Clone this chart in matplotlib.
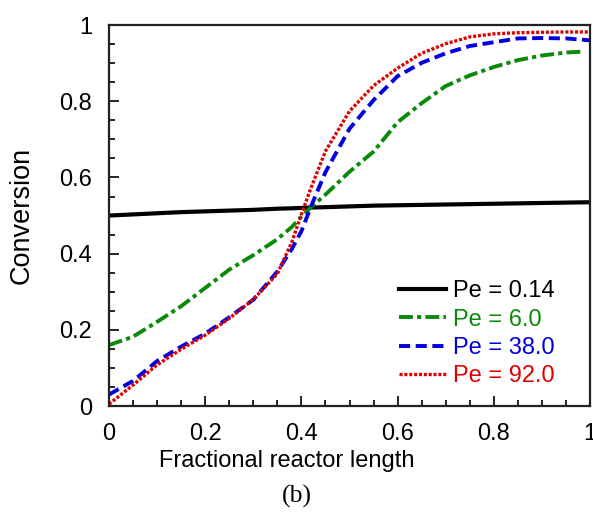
import numpy as np
import matplotlib.pyplot as plt

# fractional reactor length
x = [0.0, 0.05, 0.1, 0.15, 0.2, 0.25, 0.3, 0.35, 0.38, 0.4, 0.42, 0.45,
     0.5, 0.55, 0.6, 0.65, 0.7, 0.75, 0.8, 0.85, 0.9, 0.95, 1.0]

# conversion for each Peclet number
pe_014 = [0.500, 0.503, 0.506, 0.509, 0.511, 0.513, 0.515, 0.518, 0.519, 0.520, 0.521, 0.522,
          0.524, 0.526, 0.527, 0.528, 0.529, 0.530, 0.531, 0.532, 0.533, 0.534, 0.535]
pe_6 = [0.160, 0.182, 0.221, 0.262, 0.310, 0.358, 0.396, 0.438, 0.470, 0.497, 0.522, 0.555,
        0.615, 0.668, 0.745, 0.795, 0.840, 0.868, 0.890, 0.908, 0.920, 0.928, 0.930]
pe_38 = [0.030, 0.066, 0.118, 0.156, 0.190, 0.233, 0.279, 0.353, 0.412, 0.459, 0.524, 0.614,
         0.728, 0.803, 0.866, 0.901, 0.926, 0.945, 0.955, 0.965, 0.966, 0.965, 0.960]
pe_92 = [0.005, 0.055, 0.108, 0.149, 0.186, 0.230, 0.280, 0.347, 0.430, 0.503, 0.573, 0.669,
         0.774, 0.841, 0.887, 0.926, 0.951, 0.969, 0.977, 0.980, 0.981, 0.982, 0.982]
labels = ["Pe = 0.14", "Pe = 6.0", "Pe = 38.0", "Pe = 92.0"]

plt.rcParams['font.family'] = ['Liberation Sans', 'DejaVu Sans']
plt.rcParams['lines.scale_dashes'] = False

fig = plt.figure(figsize=(5.93, 5.12), dpi=100)
ax = fig.add_axes([0.1838, 0.207, 0.8112, 0.744])

ax.plot(x, pe_014, color="black", lw=3.0, label=labels[0])
ax.plot(x[:-1] + [0.98], pe_6[:-1] + [0.930], color="#0a8a0a", lw=2.8,
        dashes=(10, 3, 3, 3), label=labels[1])
ax.plot(x, pe_38, color="#0000e0", lw=2.8, dashes=(8, 4), label=labels[2])
ax.plot(x, pe_92, color="#e00000", lw=2.4, dashes=(2.2, 1.3), label=labels[3])

ax.set_xlim(0, 1)
ax.set_ylim(0, 1)
ax.set_xticks(np.arange(0, 1.01, 0.2))
ax.set_yticks(np.arange(0, 1.01, 0.2))
ax.set_xticklabels(["0", "0.2", "0.4", "0.6", "0.8", "1"])
ax.set_yticklabels(["0", "0.2", "0.4", "0.6", "0.8", "1"])
ax.set_xticks(np.arange(0, 1.01, 0.05), minor=True)
ax.set_yticks(np.arange(0, 1.01, 0.05), minor=True)
ax.tick_params(which="both", direction="in", top=False, right=False, width=1.2, labelsize=17)
ax.tick_params(which="major", length=7)
ax.tick_params(which="minor", length=4)
ax.tick_params(axis="y", pad=12)
ax.tick_params(axis="x", pad=12)
for s in ax.spines.values():
    s.set_linewidth(1.6)
    s.set_color("#222222")

ax.set_xlabel("Fractional reactor length", fontsize=17)
ax.xaxis.set_label_coords(0.37, -0.116)
ax.set_ylabel("Conversion", fontsize=19.5)
ax.yaxis.set_label_coords(-0.154, 0.5)
fig.text(0.5, 0.031, "(b)", fontsize=18.5, family=['Liberation Serif', 'DejaVu Serif'],
         ha="center", va="center")

ax.legend(loc="lower left", bbox_to_anchor=(0.573, 0.012), frameon=False, fontsize=17,
          handlelength=2.0, handletextpad=0.28, labelspacing=0.27, labelcolor="linecolor",
          borderaxespad=0.2)

fig.savefig("out.png", dpi=100)
